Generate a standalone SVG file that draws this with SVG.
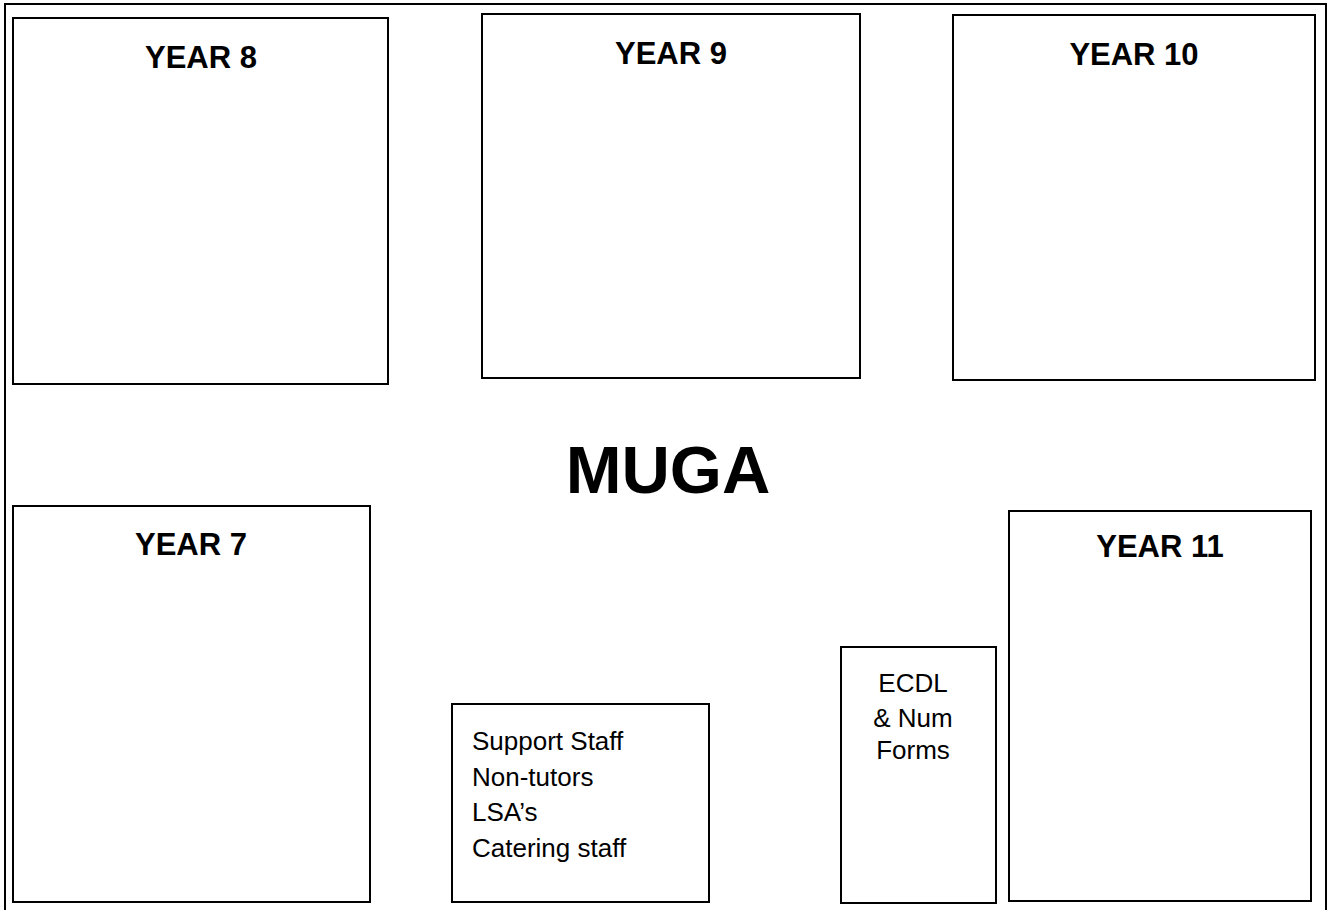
<svg xmlns="http://www.w3.org/2000/svg" width="1328" height="910" viewBox="0 0 1328 910">
<style>
.box{fill:#fff;stroke:#000;stroke-width:2}
.frame{fill:#fff;stroke:#000;stroke-width:2}
.h{font-family:"Liberation Sans",Arial,sans-serif;font-weight:bold;font-size:31px;text-anchor:middle;fill:#000}
.big{font-family:"Liberation Sans",Arial,sans-serif;font-weight:bold;font-size:67px;text-anchor:middle;fill:#000}
.t{font-family:"Liberation Sans",Arial,sans-serif;font-size:26px;fill:#000}
.tc{font-family:"Liberation Sans",Arial,sans-serif;font-size:26px;fill:#000;text-anchor:middle}
</style>
<rect class="frame" x="5" y="4" width="1321" height="910"/>
<g id="year8"><rect class="box" x="13" y="18" width="375" height="366"/><text class="h" x="201" y="68">YEAR 8</text></g>
<g id="year9"><rect class="box" x="482" y="14" width="378" height="364"/><text class="h" x="671" y="64">YEAR 9</text></g>
<g id="year10"><rect class="box" x="953" y="15" width="362" height="365"/><text class="h" x="1134" y="65">YEAR 10</text></g>
<g id="muga"><text class="big" x="668" y="493">MUGA</text></g>
<g id="year7"><rect class="box" x="13" y="506" width="357" height="396"/><text class="h" x="191" y="555">YEAR 7</text></g>
<g id="support"><rect class="box" x="452" y="704" width="257" height="198"/>
<text class="t" x="472" y="750">Support Staff</text>
<text class="t" x="472" y="786">Non-tutors</text>
<text class="t" x="472" y="821">LSA’s</text>
<text class="t" x="472" y="857">Catering staff</text></g>
<g id="ecdl"><rect class="box" x="841" y="647" width="155" height="256"/>
<text class="tc" x="913" y="692">ECDL</text>
<text class="tc" x="913" y="727">&amp; Num</text>
<text class="tc" x="913" y="759">Forms</text></g>
<g id="year11"><rect class="box" x="1009" y="511" width="302" height="390"/><text class="h" x="1160" y="557">YEAR 11</text></g>
<g id="connectors"/>
</svg>
